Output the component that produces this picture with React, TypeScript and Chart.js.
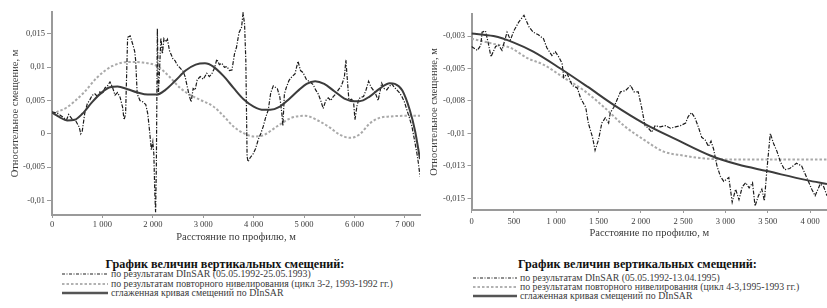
import React, { useEffect, useRef } from "react";
import { Chart, registerables } from "chart.js";
Chart.register(...registerables);

const FONT = "'Liberation Serif', 'Times New Roman', serif";

// ---------- LEFT CHART DATA ----------
const leftDinsarX = [0,100,200,290,330,400,460,540,570,600,650,700,750,800,850,900,950,1000,1050,1100,1150,1200,1250,1300,1350,1400,1430,1460,1500,1550,1600,1640,1660,1690,1745,1800,1860,1900,1940,1970,2000,2020,2040,2055,2070,2090,2110,2130,2160,2190,2220,2260,2290,2330,2370,2400,2440,2480,2540,2600,2640,2680,2720,2760,2800,2840,2880,2940,3000,3070,3120,3170,3220,3270,3320,3370,3420,3470,3520,3570,3620,3660,3710,3760,3790,3820,3845,3870,3890,3930,3990,4040,4090,4140,4190,4240,4290,4340,4390,4430,4470,4520,4560,4580,4610,4650,4700,4760,4820,4880,4930,4980,5050,5120,5180,5230,5280,5330,5380,5430,5480,5530,5580,5630,5680,5740,5800,5830,5860,5890,5940,5980,6010,6050,6090,6140,6180,6230,6280,6330,6370,6420,6470,6510,6540,6590,6640,6690,6740,6790,6840,6890,6940,6990,7040,7090,7140,7200,7240,7270,7300];
const leftDinsarY = [0.0033,0.0031,0.0026,0.0021,0.0029,0.0022,0.0021,0.0010,0.0000,0.0004,0.0031,0.0045,0.0051,0.0058,0.0060,0.0056,0.0063,0.0060,0.0069,0.0072,0.0078,0.0070,0.0058,0.0062,0.0055,0.0040,0.0021,0.0030,0.0145,0.0147,0.0135,0.0124,0.0110,0.0060,0.0050,0.0048,0.0044,0.0030,0.0001,-0.0024,-0.0012,-0.0030,-0.0090,-0.0118,-0.0050,0.0158,0.0060,0.0090,0.0144,0.0120,0.0143,0.0138,0.0142,0.0125,0.0118,0.0112,0.0110,0.0104,0.0099,0.0094,0.0086,0.0072,0.0058,0.0048,0.0068,0.0066,0.0081,0.0086,0.0082,0.0091,0.0086,0.0090,0.0098,0.0112,0.0104,0.0106,0.0100,0.0101,0.0095,0.0096,0.0120,0.0130,0.0152,0.0160,0.0181,0.0165,0.0110,-0.0034,-0.0042,-0.0036,-0.0030,-0.0022,-0.0009,0.0000,0.0011,0.0025,0.0036,0.0062,0.0072,0.0070,0.0068,0.0055,0.0030,0.0012,0.0060,0.0070,0.0080,0.0086,0.0090,0.0109,0.0095,0.0092,0.0081,0.0078,0.0074,0.0066,0.0060,0.0050,0.0038,0.0050,0.0054,0.0050,0.0056,0.0060,0.0066,0.0072,0.0085,0.0111,0.0080,0.0050,0.0052,0.0050,0.0021,0.0042,0.0053,0.0055,0.0056,0.0066,0.0079,0.0070,0.0066,0.0060,0.0050,0.0065,0.0076,0.0068,0.0066,0.0071,0.0075,0.0070,0.0066,0.0062,0.0056,0.0048,0.0036,0.0024,0.0011,-0.0013,-0.0030,-0.0045,-0.0064];

const leftLevelX = [0,300,620,900,1200,1550,1800,2080,2300,2540,2750,2940,3200,3400,3600,3800,4000,4200,4460,4750,5020,5300,5520,5700,5910,6100,6310,6500,6710,7000,7300];
const leftLevelY = [0.0030,0.0040,0.0061,0.0085,0.0102,0.0108,0.0107,0.0102,0.0088,0.0069,0.0058,0.0051,0.0041,0.0027,0.0011,0.0001,-0.0004,-0.0002,0.0011,0.0024,0.0027,0.0019,0.0009,-0.0001,-0.0006,-0.0001,0.0016,0.0024,0.0026,0.0027,0.0027];

const leftSmoothX = [0,150,300,450,600,800,1000,1150,1300,1500,1700,1900,2080,2250,2450,2650,2850,3035,3200,3400,3600,3800,4000,4200,4330,4500,4700,4900,5050,5220,5400,5600,5800,6000,6100,6300,6500,6700,6800,6950,7100,7200,7300];
const leftSmoothY = [0.0032,0.0025,0.0020,0.0021,0.0030,0.0048,0.0063,0.0070,0.0071,0.0067,0.0062,0.0059,0.0059,0.0066,0.0080,0.0095,0.0104,0.0106,0.0101,0.0087,0.0069,0.0052,0.0041,0.0036,0.0036,0.0040,0.0052,0.0066,0.0075,0.0079,0.0075,0.0064,0.0053,0.0049,0.0049,0.0056,0.0068,0.0076,0.0075,0.0065,0.0035,0.0005,-0.0038];

const leftXTicks = [0,1000,2000,3000,4000,5000,6000,7000];
const leftXLabels = ["0","1 000","2 000","3 000","4 000","5 000","6 000","7 000"];
const leftYTicks = [0.015,0.01,0.005,0,-0.005,-0.01];
const leftYLabels = ["0,015","0,01","0,005","0","-0,005","-0,01"];

// ---------- RIGHT CHART DATA ----------
const rightDinsarX = [0,70,110,125,165,200,230,285,320,360,420,460,500,560,620,680,730,790,850,890,950,990,1030,1070,1090,1130,1190,1250,1290,1350,1380,1430,1460,1500,1540,1580,1620,1640,1680,1720,1760,1820,1880,1920,1970,2010,2050,2090,2130,2170,2230,2290,2350,2410,2470,2530,2560,2600,2640,2680,2720,2760,2800,2830,2860,2900,2940,2980,3040,3080,3120,3160,3200,3240,3280,3320,3350,3390,3430,3460,3490,3530,3570,3610,3650,3700,3760,3840,3900,3960,4020,4060,4120,4160,4200];
const rightDinsarY = [-0.0033,-0.0036,-0.0032,-0.0022,-0.0021,-0.0031,-0.0041,-0.0033,-0.0032,-0.0036,-0.0022,-0.0028,-0.0021,-0.0014,-0.0009,-0.0018,-0.0022,-0.0024,-0.0027,-0.0034,-0.0040,-0.0037,-0.0041,-0.0046,-0.0057,-0.0054,-0.0063,-0.0065,-0.0073,-0.0080,-0.0092,-0.0103,-0.0113,-0.0105,-0.0092,-0.0088,-0.0092,-0.0084,-0.0080,-0.0074,-0.0068,-0.0067,-0.0063,-0.0068,-0.0068,-0.0080,-0.0094,-0.0096,-0.0099,-0.0094,-0.0095,-0.0094,-0.0096,-0.0095,-0.0094,-0.0092,-0.0087,-0.0084,-0.0088,-0.0095,-0.0103,-0.0105,-0.0110,-0.0106,-0.0112,-0.0125,-0.0133,-0.0137,-0.0134,-0.0153,-0.0143,-0.0151,-0.0141,-0.0138,-0.0142,-0.0138,-0.0156,-0.0148,-0.0143,-0.0152,-0.0128,-0.0100,-0.0108,-0.0114,-0.0122,-0.0128,-0.0127,-0.0123,-0.0125,-0.0134,-0.0143,-0.0148,-0.0139,-0.0141,-0.0148];

const rightLevelX = [0,260,460,660,850,1090,1330,1570,1800,2040,2270,2500,2700,3000,4200];
const rightLevelY = [-0.0027,-0.0031,-0.0034,-0.0042,-0.0047,-0.0057,-0.0067,-0.0080,-0.0094,-0.0105,-0.0114,-0.0117,-0.0119,-0.0120,-0.0120];

const rightSmoothX = [0,260,500,730,1050,1370,1680,2030,2430,2820,3150,3490,3960,4200];
const rightSmoothY = [-0.0023,-0.0025,-0.0030,-0.0037,-0.0050,-0.0064,-0.0078,-0.0092,-0.0105,-0.0117,-0.0124,-0.0129,-0.0136,-0.0139];

const rightXTicks = [0,500,1000,1500,2000,2500,3000,3500,4000];
const rightXLabels = ["0","500","1 000","1 500","2 000","2 500","3 000","3 500","4 000"];
const rightYTicks = [-0.0025,-0.005,-0.0075,-0.01,-0.0125,-0.015];
const rightYLabels = ["-0,003","-0,005","-0,008","-0,01","-0,013","-0,015"];

const X_TITLE = "Расстояние по профилю, м";
const Y_TITLE = "Относительное смещение, м";
const LEGEND_TITLE = "График величин вертикальных смещений:";
const leftLegend = [
  "по результатам DInSAR (05.05.1992-25.05.1993)",
  "по результатам повторного нивелирования (цикл 3-2, 1993-1992 гг.)",
  "сглаженная кривая смещений по  DInSAR",
];
const rightLegend = [
  "по результатам DInSAR (05.05.1992-13.04.1995)",
  "по результатам повторного нивелирования (цикл 4-3,1995-1993 гг.)",
  "сглаженная кривая смещений по  DInSAR",
];

const AXIS_COLOR = "#9a9a9a";
const TEXT_COLOR = "#3a3a3a";

type Cfg = {
  nx: number[]; ny: number[]; lx: number[]; ly: number[]; sx: number[]; sy: number[];
  xMin: number; xMax: number; yMin: number; yMax: number;
  xTicks: number[]; xLabels: string[]; yTicks: number[]; yLabels: string[];
  padTop: number; padRight: number; yAxisW: number; xAxisH: number;
  yTitlePad: number; xTitlePad: number; xTickPad: number; yTickLen: number; yTickPad: number;
};

function pts(xs: number[], ys: number[]) {
  return xs.map((x, i) => ({ x, y: ys[i] }));
}

function buildConfig(c: Cfg): any {
  return {
    type: "line",
    data: {
      datasets: [
        {
          label: "smooth",
          data: pts(c.sx, c.sy),
          borderColor: "#3c3c3c",
          borderWidth: 2,
          pointRadius: 0,
          cubicInterpolationMode: "monotone",
          fill: false,
          order: 0,
        },
        {
          label: "dinsar",
          data: pts(c.nx, c.ny),
          borderColor: "#1c1c1c",
          borderWidth: 1.2,
          borderDash: [4, 1.5, 1.2, 1.5],
          pointRadius: 0,
          tension: 0,
          fill: false,
          order: 1,
        },
        {
          label: "level",
          data: pts(c.lx, c.ly),
          borderColor: "#a9a9a9",
          borderWidth: 2,
          borderDash: [2.5, 2],
          pointRadius: 0,
          cubicInterpolationMode: "monotone",
          fill: false,
          order: 2,
        },
      ],
    },
    options: {
      animation: false,
      responsive: false,
      devicePixelRatio: 1,
      events: [],
      layout: { padding: { top: c.padTop, right: c.padRight, left: 0, bottom: 0 } },
      plugins: { legend: { display: false }, tooltip: { enabled: false } },
      scales: {
        x: {
          type: "linear",
          min: c.xMin,
          max: c.xMax,
          afterBuildTicks: (s: any) => {
            s.ticks = c.xTicks.map((v) => ({ value: v }));
          },
          afterFit: (s: any) => {
            s.height = c.xAxisH;
          },
          ticks: {
            autoSkip: false,
            maxRotation: 0,
            padding: c.xTickPad,
            color: TEXT_COLOR,
            font: { family: FONT, size: 8.5 },
            callback: (v: number) => {
              const i = c.xTicks.indexOf(v);
              return i >= 0 ? c.xLabels[i] : "";
            },
          },
          grid: { drawOnChartArea: false, drawTicks: true, tickLength: 3, color: AXIS_COLOR, lineWidth: 1 },
          border: { display: true, color: AXIS_COLOR, width: 2 },
          title: {
            display: true,
            text: X_TITLE,
            color: TEXT_COLOR,
            font: { family: FONT, size: 10.5 },
            padding: { top: 0, bottom: c.xTitlePad },
          },
        },
        y: {
          type: "linear",
          min: c.yMin,
          max: c.yMax,
          afterBuildTicks: (s: any) => {
            s.ticks = c.yTicks.map((v) => ({ value: v }));
          },
          afterFit: (s: any) => {
            s.width = c.yAxisW;
          },
          ticks: {
            autoSkip: false,
            padding: c.yTickPad,
            color: TEXT_COLOR,
            font: { family: FONT, size: 8.5 },
            callback: (v: number) => {
              let idx = -1;
              c.yTicks.forEach((t, i) => {
                if (Math.abs(t - v) < 1e-9) idx = i;
              });
              return idx >= 0 ? c.yLabels[idx] : "";
            },
          },
          grid: { drawOnChartArea: false, drawTicks: true, tickLength: c.yTickLen, color: AXIS_COLOR, lineWidth: 1 },
          border: { display: true, color: AXIS_COLOR, width: 2 },
          title: {
            display: true,
            text: Y_TITLE,
            color: TEXT_COLOR,
            font: { family: FONT, size: 10.5 },
            padding: { top: c.yTitlePad, bottom: 0 },
          },
        },
      },
    },
  };
}

function ChartCanvas(props: { cfg: Cfg; left: number; width: number; height: number }) {
  const ref = useRef<HTMLCanvasElement | null>(null);
  useEffect(() => {
    if (!ref.current) return;
    const chart = new Chart(ref.current, buildConfig(props.cfg));
    return () => chart.destroy();
  }, []);
  return (
    <canvas
      ref={ref}
      width={props.width}
      height={props.height}
      style={{ position: "absolute", left: props.left, top: 0, width: props.width, height: props.height }}
    />
  );
}

function LegendBlock(props: {
  titleCenter: number;
  sampleX: number;
  sampleW: number;
  textX: number;
  ys: number[];
  items: string[];
}) {
  const { titleCenter, sampleX, sampleW, textX, ys, items } = props;
  const samples = [
    { color: "#222", width: 1.2, dash: "3 1.5 1 1.5" },
    { color: "#999", width: 1.6, dash: "2.5 2" },
    { color: "#555", width: 2.4, dash: "" },
  ];
  return (
    <>
      <div
        style={{
          position: "absolute",
          left: titleCenter - 200,
          width: 400,
          top: 264 - 7,
          height: 14,
          lineHeight: "14px",
          textAlign: "center",
          fontFamily: FONT,
          fontWeight: "bold",
          fontSize: 12.2,
          color: "#111",
          whiteSpace: "nowrap",
        }}
      >
        {LEGEND_TITLE}
      </div>
      {items.map((t, i) => (
        <React.Fragment key={i}>
          <svg
            width={sampleW}
            height={6}
            style={{ position: "absolute", left: sampleX, top: ys[i] - 3 }}
          >
            <line
              x1={0}
              y1={3}
              x2={sampleW}
              y2={3}
              stroke={samples[i].color}
              strokeWidth={samples[i].width}
              strokeDasharray={samples[i].dash || undefined}
            />
          </svg>
          <div
            style={{
              position: "absolute",
              left: textX,
              top: ys[i] - 5,
              height: 10,
              lineHeight: "10px",
              fontFamily: FONT,
              fontSize: 9.8,
              color: "#3a3a3a",
              whiteSpace: "nowrap",
            }}
          >
            {t}
          </div>
        </React.Fragment>
      ))}
    </>
  );
}

const leftCfg: Cfg = {
  nx: leftDinsarX, ny: leftDinsarY, lx: leftLevelX, ly: leftLevelY, sx: leftSmoothX, sy: leftSmoothY,
  xMin: 0, xMax: 7300, yMin: -0.0122, yMax: 0.0183,
  xTicks: leftXTicks, xLabels: leftXLabels, yTicks: leftYTicks, yLabels: leftYLabels,
  padTop: 12, padRight: 4, yAxisW: 52, xAxisH: 35,
  yTitlePad: 8.7, xTitlePad: 6.7, xTickPad: 1.9, yTickLen: 5, yTickPad: 2,
};

const rightCfg: Cfg = {
  nx: rightDinsarX, ny: rightDinsarY, lx: rightLevelX, ly: rightLevelY, sx: rightSmoothX, sy: rightSmoothY,
  xMin: 0, xMax: 4200, yMin: -0.0159, yMax: -0.0008,
  xTicks: rightXTicks, xLabels: rightXLabels, yTicks: rightYTicks, yLabels: rightYLabels,
  padTop: 14, padRight: 0, yAxisW: 47.5, xAxisH: 40,
  yTitlePad: 3.7, xTitlePad: 10.7, xTickPad: 3.9, yTickLen: 4, yTickPad: 2.5,
};

export default function App() {
  return (
    <div
      style={{
        position: "absolute",
        left: 0,
        top: 0,
        width: 827,
        height: 308,
        background: "#ffffff",
        overflow: "hidden",
      }}
    >
      <ChartCanvas cfg={leftCfg} left={0} width={424} height={250} />
      <ChartCanvas cfg={rightCfg} left={424} width={403} height={250} />
      <LegendBlock titleCenter={225} sampleX={62} sampleW={46} textX={111} ys={[274, 283.5, 293]} items={leftLegend} />
      <LegendBlock titleCenter={637.5} sampleX={473} sampleW={44} textX={520} ys={[277.5, 286.5, 295.5]} items={rightLegend} />
    </div>
  );
}
